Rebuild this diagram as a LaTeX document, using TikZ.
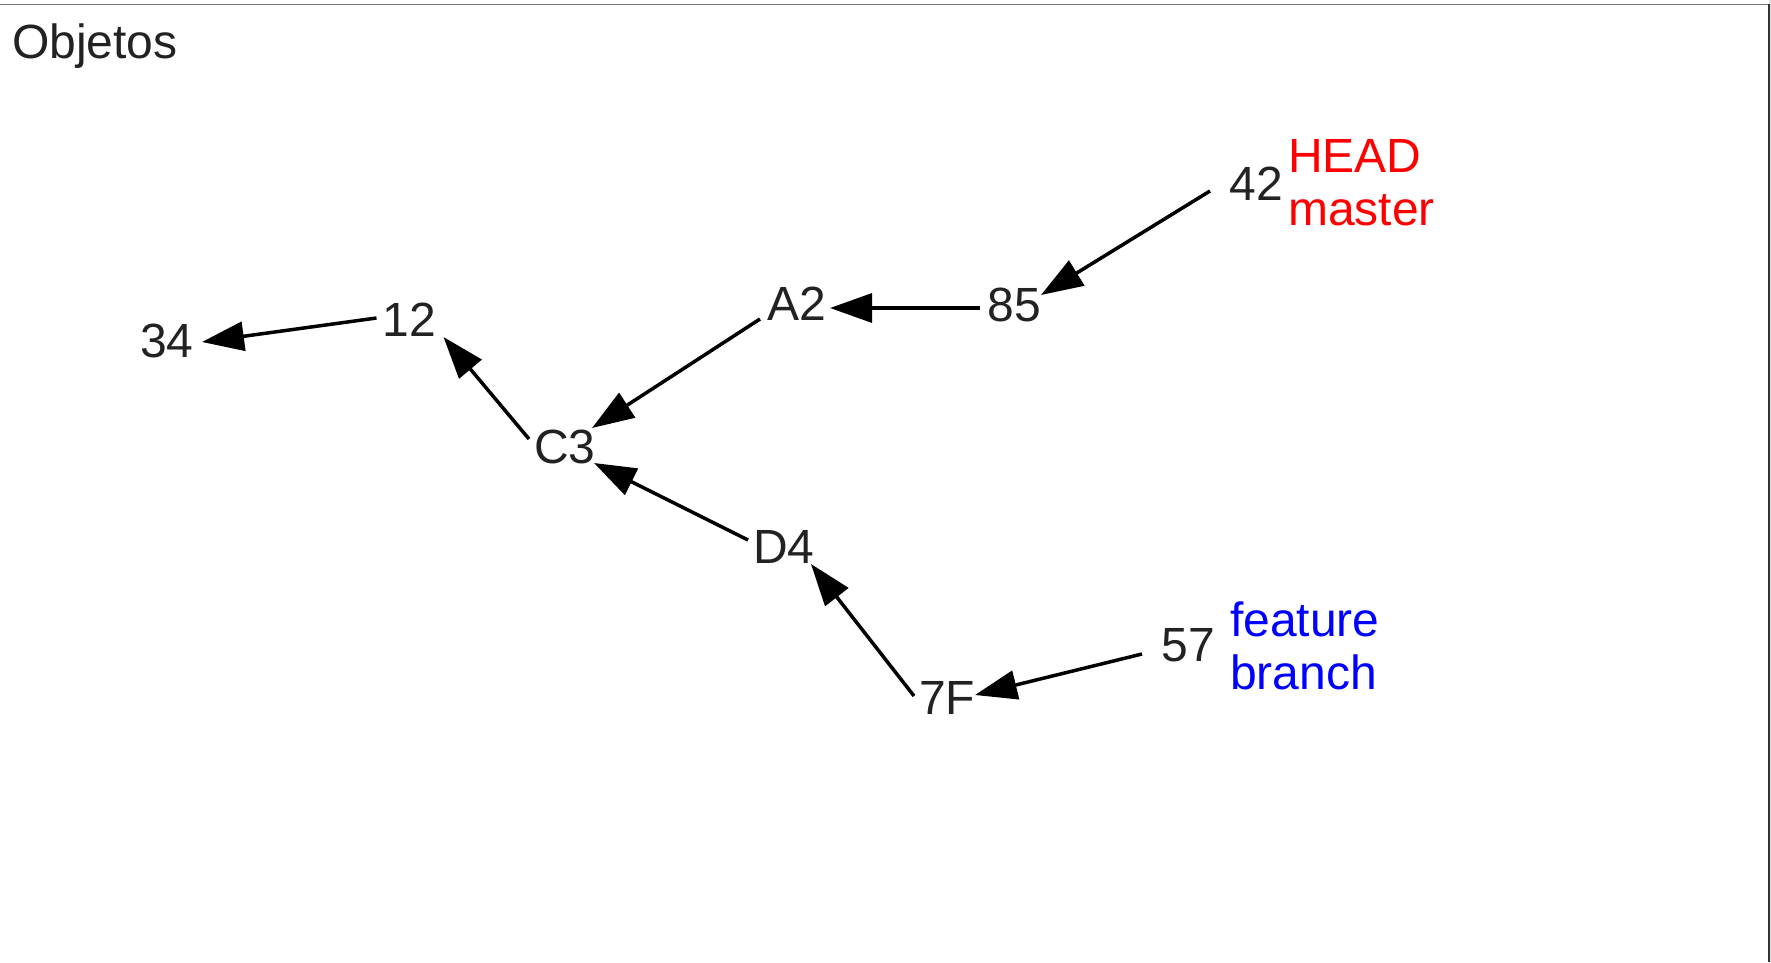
\documentclass[tikz,border=0pt]{standalone}
\usepackage{fontspec}
\setmainfont{Liberation Sans}
\usetikzlibrary{arrows.meta,calc}
\definecolor{txt}{RGB}{34,34,34}
\definecolor{headred}{RGB}{255,0,0}
\definecolor{featblue}{RGB}{0,0,255}
\tikzset{
  obj/.style={inner sep=0pt, outer sep=0pt, text=txt, font=\fontsize{48bp}{54bp}\selectfont},
  lbl/.style={inner sep=0pt, outer sep=0pt, anchor=base west, font=\fontsize{48bp}{54bp}\selectfont},
  ptr/.style={line width=3.5bp, draw=black, -{Triangle[length=42bp,width=29bp]}}
}
\begin{document}
\begin{tikzpicture}[x=1bp,y=-1bp]
\useasboundingbox (0,0) rectangle (1771,962);
\fill[white] (0,0) rectangle (1771,962);
\fill[black!12] (1769,0) rectangle (1771,962);
\draw[line width=1.5bp, draw=black!55] (0,4.5) -- (1769,4.5);
\draw[line width=2bp, draw=black!80] (1768.5,4) -- (1768.5,962);

\node[lbl, text=txt] (title) at (12,58) {Objetos};

\node[obj] (n34) at (167,341) {34};
\node[obj] (n12) at (409.5,320) {12};
\node[obj] (nC3) at (565,447) {C3};
\node[obj] (nA2) at (797,304) {A2};
\node[obj] (n85) at (1014,305) {85};
\node[obj] (n42) at (1256,184) {42};
\node[obj] (nD4) at (784,547) {D4};
\node[obj] (n7F) at (947,698) {7F};
\node[obj] (n57) at (1188,645) {57};

\node[lbl, text=headred] (head) at (1288,172) {HEAD};
\node[lbl, text=headred] (master) at (1288,225) {master};
\node[lbl, text=featblue] (feature) at (1230,636) {feature};
\node[lbl, text=featblue] (branch) at (1230,689) {branch};

\draw[ptr] ($(n42)+(-46,7)$) -- ($(n85)+(27,-10)$);
\draw[ptr] ($(n85)+(-34,3)$) -- ($(nA2)+(33,4)$);
\draw[ptr] ($(nA2)+(-37,15)$) -- ($(nC3)+(27,-19)$);
\draw[ptr] ($(nC3)+(-36,-8)$) -- ($(n12)+(34,17)$);
\draw[ptr] ($(n12)+(-33,-2)$) -- ($(n34)+(35,1)$);
\draw[ptr] ($(nD4)+(-36,-7)$) -- ($(nC3)+(29,16)$);
\draw[ptr] ($(n7F)+(-33,-2)$) -- ($(nD4)+(27,17)$);
\draw[ptr] ($(n57)+(-46,9)$) -- ($(n7F)+(28,-3)$);
\end{tikzpicture}
\end{document}
